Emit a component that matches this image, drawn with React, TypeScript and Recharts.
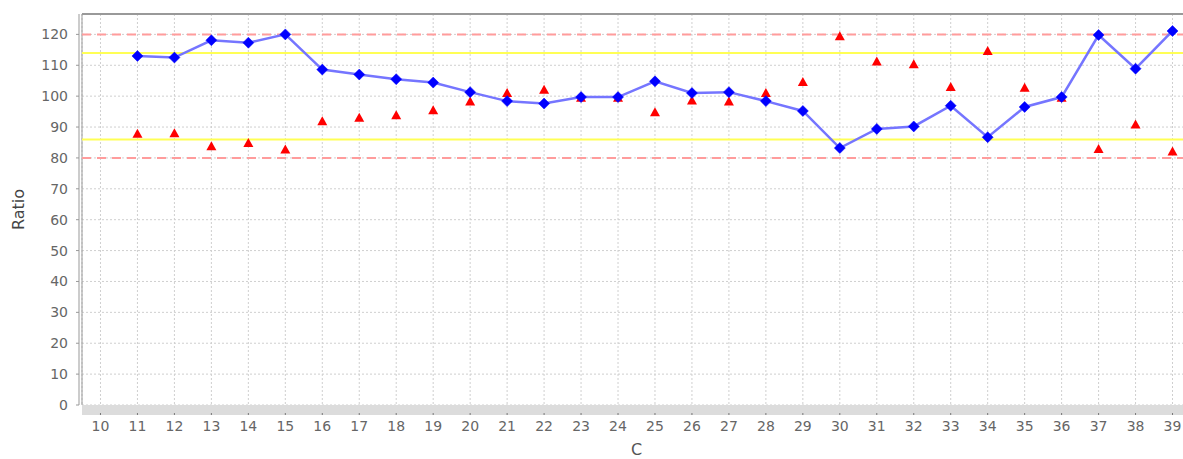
import {
  ComposedChart, Line, XAxis, YAxis, CartesianGrid, ReferenceLine,
} from 'recharts';

// run index on the x axis
const CATEGORIES = [11, 12, 13, 14, 15, 16, 17, 18, 19, 20, 21, 22, 23, 24, 25, 26, 27, 28, 29, 30, 31, 32, 33, 34, 35, 36, 37, 38, 39];
// blue series (joined by line)
const RATIO_MAIN = [113.0, 112.5, 118.1, 117.3, 120.0, 108.6, 107.0, 105.5, 104.4, 101.3, 98.4, 97.6, 99.7, 99.7, 104.8, 101.0, 101.3, 98.4, 95.2, 83.2, 89.4, 90.2, 96.9, 86.7, 96.5, 99.7, 119.8, 108.9, 121.1];
// red triangles
const RATIO_ALT = [87.8, 88.0, 83.8, 84.8, 82.7, 91.9, 93.0, 93.8, 95.4, 98.3, 101.0, 102.1, 99.5, 99.5, 94.8, 98.6, 98.3, 101.0, 104.6, 119.4, 111.2, 110.3, 103.0, 114.6, 102.7, 99.5, 82.9, 90.8, 82.1];

const X_TICKS = [10, 11, 12, 13, 14, 15, 16, 17, 18, 19, 20, 21, 22, 23, 24, 25, 26, 27, 28, 29, 30, 31, 32, 33, 34, 35, 36, 37, 38, 39];
const Y_TICKS = [0, 10, 20, 30, 40, 50, 60, 70, 80, 90, 100, 110, 120];
const LIMITS_OUTER = [120, 80];
const LIMITS_INNER = [114, 86];

const X_DOMAIN: [number, number] = [9.5, 39.5];
const Y_MAX = 126.6;

const FONT = '"DejaVu Sans", sans-serif';

const table = CATEGORIES.map((c, i) => ({ c, main: RATIO_MAIN[i], alt: RATIO_ALT[i] }));

function Diamond(props: any) {
  const { cx, cy } = props;
  if (cx == null || cy == null) return null;
  const r = 5.5;
  return <path d={`M${cx},${cy - r}L${cx + r},${cy}L${cx},${cy + r}L${cx - r},${cy}Z`} fill="#0000ff" stroke="#0000ff" strokeWidth={0.5} strokeLinejoin="round" />;
}

function Triangle(props: any) {
  const { cx, cy } = props;
  if (cx == null || cy == null) return null;
  return <path d={`M${cx},${cy - 5}L${cx + 5},${cy + 4}L${cx - 5},${cy + 4}Z`} fill="#ff0000" />;
}

export default function App() {
  return (
    <div style={{ position: 'absolute', left: 0, top: 0, width: 1183, height: 459, overflow: 'hidden', background: '#fff' }}>
      <ComposedChart width={1191} height={459} data={table} margin={{ top: 14, right: 0, bottom: 0, left: 0 }}>
        <CartesianGrid strokeDasharray="2 2" stroke="#cfcfcf" />
        <XAxis
          type="number"
          dataKey="c"
          domain={X_DOMAIN}
          ticks={X_TICKS}
          allowDataOverflow
          height={54}
          axisLine={{ stroke: '#dcdcdc', strokeWidth: 10, transform: 'translate(0,5)' }}
          tickLine={{ stroke: '#777', transform: 'translate(0,8)' }}
          tickSize={2}
          tickMargin={14}
          tick={{ fill: '#666', fontSize: 14, fontFamily: FONT }}
          label={{ value: 'C', position: 'insideBottom', offset: 4, fill: '#555', fontSize: 16, fontFamily: FONT }}
        />
        <YAxis
          type="number"
          domain={[0, Y_MAX]}
          ticks={Y_TICKS}
          allowDataOverflow
          width={82}
          axisLine={{ stroke: '#999', transform: 'translate(-3,0)' }}
          tickLine={{ stroke: '#999', transform: 'translate(-3,0)' }}
          tickSize={3}
          tickMargin={11}
          tick={{ fill: '#666', fontSize: 14, fontFamily: FONT }}
          label={{ value: 'Ratio', angle: -90, position: 'insideLeft', offset: 18, fill: '#444', fontSize: 16, fontFamily: FONT, style: { textAnchor: 'middle' } }}
        />
        <ReferenceLine y={Y_MAX} stroke="#999" strokeWidth={2} />
        <ReferenceLine x={X_DOMAIN[0]} stroke="#999" strokeWidth={1} />
        {LIMITS_OUTER.map((v) => (
          <ReferenceLine key={`o${v}`} y={v} stroke="#ff9c9c" strokeWidth={2} strokeDasharray="9 6" />
        ))}
        {LIMITS_INNER.map((v) => (
          <ReferenceLine key={`i${v}`} y={v} stroke="#ffff55" strokeWidth={2} />
        ))}
        <Line
          dataKey="alt"
          stroke="none"
          dot={(p: any) => <Triangle key={`t${p.index}`} cx={p.cx} cy={p.cy} />}
          activeDot={false}
          isAnimationActive={false}
        />
        <Line
          dataKey="main"
          stroke="#7575ff"
          strokeWidth={2.5}
          dot={(p: any) => <Diamond key={`d${p.index}`} cx={p.cx} cy={p.cy} />}
          activeDot={false}
          isAnimationActive={false}
        />
      </ComposedChart>
    </div>
  );
}
